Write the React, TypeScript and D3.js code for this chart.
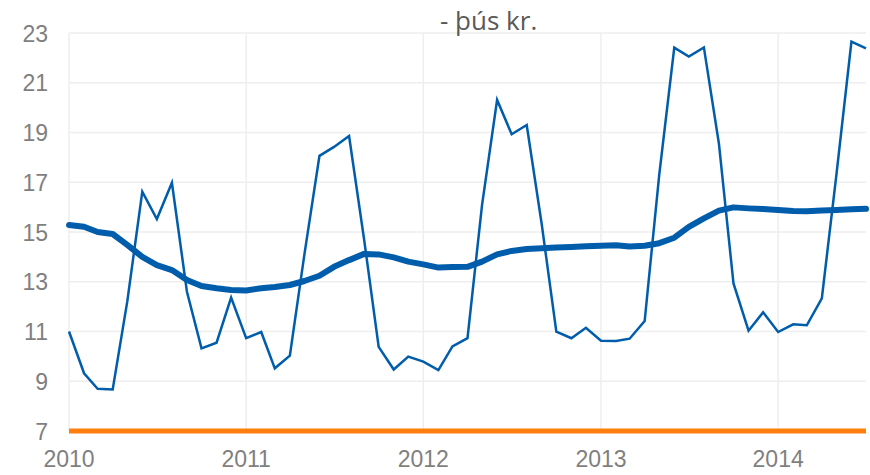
import * as d3 from "d3";

// Monthly values Jan 2010 – Jul 2014 (þús kr.)
const monthly = [
  11.0, 9.32, 8.7, 8.67, 12.2, 16.62, 15.52, 16.98, 12.6, 10.32, 10.55, 12.36,
  10.73, 10.98, 9.52, 10.03, 14.1, 18.06, 18.42, 18.86, 14.7, 10.38, 9.47, 9.99,
  9.79, 9.45, 10.4, 10.73, 16.09, 20.31, 18.93, 19.3, 15.3, 10.99, 10.73, 11.15,
  10.63, 10.62, 10.71, 11.42, 17.3, 22.41, 22.05, 22.42, 18.55, 12.93, 11.03, 11.77,
  10.98, 11.29, 11.25, 12.33, 17.3, 22.65, 22.38,
];

// 12-month trend
const trend = [
  15.28, 15.21, 15.0, 14.92, 14.48, 14.0, 13.67, 13.47, 13.07, 12.83, 12.74, 12.67,
  12.65, 12.74, 12.79, 12.87, 13.03, 13.24, 13.6, 13.87, 14.12, 14.1, 13.98, 13.81,
  13.7, 13.57, 13.59, 13.6, 13.81, 14.1, 14.24, 14.32, 14.35, 14.38, 14.4, 14.43,
  14.45, 14.47, 14.42, 14.45, 14.55, 14.77, 15.21, 15.55, 15.86, 15.99, 15.95, 15.92,
  15.88, 15.84, 15.83, 15.86, 15.88, 15.91, 15.93,
];

const baseline = 7;
const yTicks = [7, 9, 11, 13, 15, 17, 19, 21, 23];
const yearTicks = [2010, 2011, 2012, 2013, 2014];
const title = "- þús kr.";

const W = 870;
const H = 475;
const left = 69;
const right = 866;
const top = 33;
const bottom = 431;

const start = new Date(2010, 0, 1);
const dates = monthly.map((_, i) => d3.timeMonth.offset(start, i));

export default function App() {
  const x = d3
    .scaleTime()
    .domain([start, dates[dates.length - 1]])
    .range([left, right]);
  const y = d3.scaleLinear().domain([7, 23]).range([bottom, top]);

  const line = d3
    .line<number>()
    .x((_, i) => x(dates[i]))
    .y((d) => y(d));

  const font = "'Liberation Sans', Arial, sans-serif";

  return (
    <svg
      width={W}
      height={H}
      style={{ position: "absolute", left: 0, top: 0, background: "#fff" }}
    >
      {/* grid */}
      {yTicks.map((t) => (
        <line
          key={"h" + t}
          x1={left}
          x2={right}
          y1={y(t)}
          y2={y(t)}
          stroke="#eeeeee"
          strokeWidth={1.5}
        />
      ))}
      {yearTicks.map((yr) => {
        const xx = x(new Date(yr, 0, 1));
        return (
          <line
            key={"v" + yr}
            x1={xx}
            x2={xx}
            y1={top}
            y2={bottom}
            stroke="#eeeeee"
            strokeWidth={1.5}
          />
        );
      })}

      {/* y labels */}
      {yTicks.map((t) => (
        <text
          key={"yl" + t}
          x={48}
          y={y(t) + 8.5}
          textAnchor="end"
          fontFamily={font}
          fontSize={23}
          fill="#7f7f7f"
        >
          {t}
        </text>
      ))}
      {/* x labels */}
      {yearTicks.map((yr) => (
        <text
          key={"xl" + yr}
          x={x(new Date(yr, 0, 1))}
          y={467}
          textAnchor="middle"
          fontFamily={font}
          fontSize={23}
          fill="#7f7f7f"
        >
          {yr}
        </text>
      ))}

      {/* baseline series */}
      <line
        x1={left}
        x2={right}
        y1={y(baseline)}
        y2={y(baseline)}
        stroke="#ff7f0e"
        strokeWidth={5}
      />

      <path
        d={line(monthly) || undefined}
        fill="none"
        stroke="#005dab"
        strokeWidth={2.5}
        strokeLinejoin="miter"
      />
      <path
        d={line(trend) || undefined}
        fill="none"
        stroke="#005dab"
        strokeWidth={6}
        strokeLinejoin="round"
        strokeLinecap="round"
      />

      <text
        x={440}
        y={30}
        fontFamily="'Open Sans', 'Noto Sans', sans-serif"
        fontSize={26}
        fill="#595959"
      >
        {title}
      </text>
    </svg>
  );
}
